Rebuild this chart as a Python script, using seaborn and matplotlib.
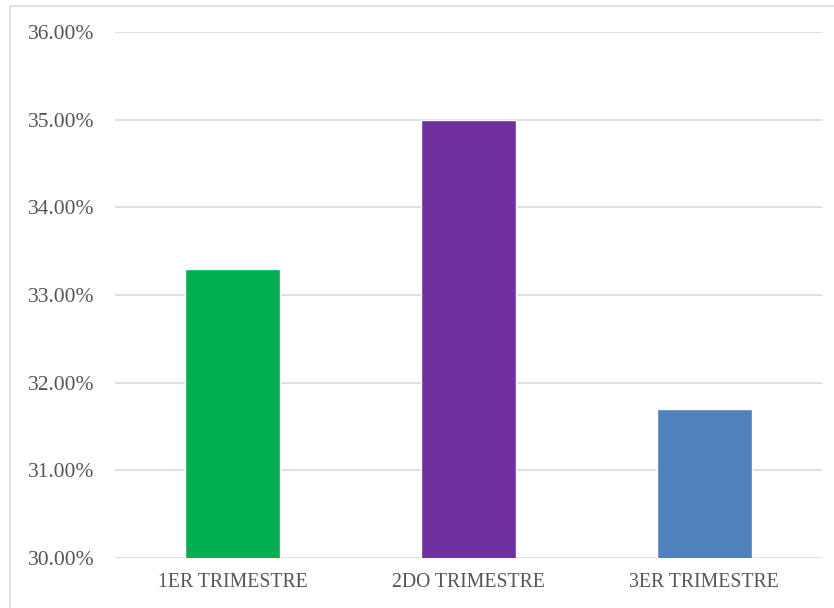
import matplotlib
matplotlib.use("Agg")
import matplotlib.pyplot as plt
import seaborn as sns
import pandas as pd
from matplotlib.patches import Rectangle
from matplotlib.ticker import FuncFormatter

categories = ["1ER TRIMESTRE", "2DO TRIMESTRE", "3ER TRIMESTRE"]
values = [33.30, 35.00, 31.70]
colors = ["#00B050", "#7030A0", "#4F81BD"]
yticks = [30, 31, 32, 33, 34, 35, 36]

sns.set_theme(style="white")
plt.rcParams["font.family"] = ["Liberation Serif"]

df = pd.DataFrame({"cat": categories, "val": values})

fig = plt.figure(figsize=(8.34, 6.08), dpi=100)
fig.patch.set_facecolor("white")
ax = fig.add_axes([115/834, 50/608, 707/834, 526/608])

# light border of the chart area
fig.add_artist(Rectangle((10/834, -0.1), 1.2, (608 - 6)/608 + 0.1,
                         transform=fig.transFigure, fill=False,
                         edgecolor="#D9D9D9", linewidth=1.2))

sns.barplot(data=df, x="cat", y="val", hue="cat", palette=colors,
            width=0.404, legend=False, ax=ax, saturation=1, zorder=3)

ax.set_ylim(30, 36)
ax.set_yticks(yticks)
ax.yaxis.set_major_formatter(FuncFormatter(lambda v, p: f"{v:.2f}%"))
ax.grid(axis="y", color="#D9D9D9", linewidth=1.2, zorder=0)
ax.set_axisbelow(True)
for s in ax.spines.values():
    s.set_visible(False)
ax.set_xlabel("")
ax.set_ylabel("")
ax.tick_params(axis="y", length=0, pad=15, labelsize=15.5, labelcolor="#555555")
ax.tick_params(axis="x", length=0, pad=11, labelsize=14.2, labelcolor="#555555")

fig.savefig("out.png", dpi=100)
